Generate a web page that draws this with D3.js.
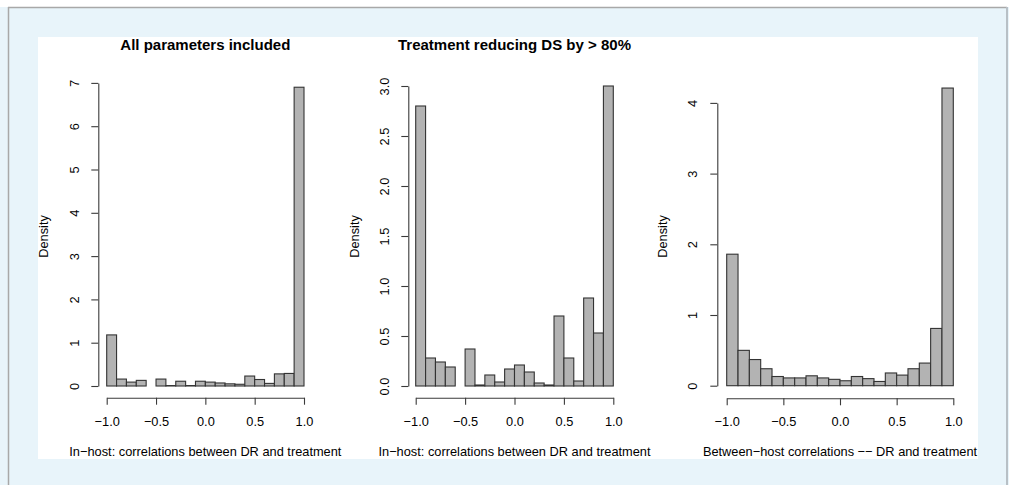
<!DOCTYPE html>
<html>
<head>
<meta charset="utf-8">
<script src="https://cdn.jsdelivr.net/npm/d3@7"></script>
<style>
  html, body { margin: 0; padding: 0; background: #ffffff; }
  svg { display: block; }
  text { font-family: "Liberation Sans", Arial, Helvetica, sans-serif; fill: #000; }
</style>
</head>
<body>
<svg id="chart" width="1009" height="485"></svg>
<script>
// Histogram bins: 20 bins of width 0.1 spanning [-1, 1]
const binEdges = d3.range(-1, 1.0001, 0.1).map(v => +v.toFixed(1));

// Density per bin, left to right
const densityAll = [1.18, 0.16, 0.09, 0.13, 0, 0.16, 0.01, 0.11, 0.01, 0.11,
                    0.09, 0.07, 0.05, 0.04, 0.23, 0.15, 0.06, 0.28, 0.29, 6.9];
const densityReduced = [2.80, 0.28, 0.24, 0.19, 0, 0.37, 0.01, 0.11, 0.04, 0.17,
                        0.21, 0.14, 0.03, 0.01, 0.70, 0.28, 0.05, 0.88, 0.53, 3.0];
const densityBetween = [1.86, 0.50, 0.37, 0.24, 0.13, 0.11, 0.11, 0.14, 0.11, 0.09,
                        0.07, 0.13, 0.10, 0.06, 0.18, 0.15, 0.24, 0.32, 0.81, 4.21];

const xTicks = [-1.0, -0.5, 0.0, 0.5, 1.0];
const yTicksAll = [0, 1, 2, 3, 4, 5, 6, 7];
const yTicksReduced = [0, 0.5, 1.0, 1.5, 2.0, 2.5, 3.0];
const yTicksBetween = [0, 1, 2, 3, 4];

const titles = ["All parameters included", "Treatment reducing DS by > 80%", ""];
const xLabels = ["In\u2212host: correlations between DR and treatment",
                 "In\u2212host: correlations between DR and treatment",
                 "Between\u2212host correlations \u2212\u2212 DR and treatment"];
const yLabel = "Density";

// Panel geometry (pixels)
const panels = [
  { values: densityAll, yTicks: yTicksAll, yFmt: d3.format("d"),
    x0: 106.7, x1: 304.0, yZero: 386.0, perUnit: 43.3, yAxisX: 98.3, xAxisY: 397.7,
    tickLabelX: 75, densityX: 44 },
  { values: densityReduced, yTicks: yTicksReduced, yFmt: d3.format(".1f"),
    x0: 415.7, x1: 613.3, yZero: 386.0, perUnit: 100.0, yAxisX: 408.3, xAxisY: 397.7,
    tickLabelX: 385, densityX: 355 },
  { values: densityBetween, yTicks: yTicksBetween, yFmt: d3.format("d"),
    x0: 726.7, x1: 953.3, yZero: 385.7, perUnit: 70.7, yAxisX: 717.3, xAxisY: 398.3,
    tickLabelX: 693, densityX: 663 }
];

const svg = d3.select("#chart");

// Page frame
svg.append("rect").attr("x", 0).attr("y", 7).attr("width", 1009).attr("height", 478).attr("fill", "#e8f4fa");
svg.append("line").attr("x1", 8).attr("x2", 1007).attr("y1", 7.5).attr("y2", 7.5).attr("stroke", "#a8a8a8").attr("stroke-width", 1.5);
svg.append("line").attr("x1", 8.5).attr("x2", 8.5).attr("y1", 7).attr("y2", 485).attr("stroke", "#a8a8a8").attr("stroke-width", 1.5);
svg.append("line").attr("x1", 1007).attr("x2", 1007).attr("y1", 7).attr("y2", 485).attr("stroke", "#b8c0c6").attr("stroke-width", 2);
svg.append("rect").attr("x", 38).attr("y", 37).attr("width", 940).attr("height", 422).attr("fill", "#ffffff");

const axisColor = "#3a3a3a";

panels.forEach((p, i) => {
  const g = svg.append("g");
  const yMax = d3.max(p.yTicks);
  const x = d3.scaleLinear().domain([-1, 1]).range([p.x0, p.x1]);
  const y = d3.scaleLinear().domain([0, yMax]).range([p.yZero, p.yZero - yMax * p.perUnit]);

  const bins = p.values.map((v, k) => ({ lo: binEdges[k], hi: binEdges[k + 1], v }));

  g.selectAll("rect.bar").data(bins).join("rect")
    .attr("class", "bar")
    .attr("x", d => x(d.lo))
    .attr("y", d => y(d.v))
    .attr("width", d => x(d.hi) - x(d.lo))
    .attr("height", d => y(0) - y(d.v))
    .attr("fill", "#b3b3b3")
    .attr("stroke", "#333333")
    .attr("stroke-width", 1.1);

  // Bottom axis
  const xa = g.append("g").attr("transform", `translate(0,${p.xAxisY})`)
    .call(d3.axisBottom(x).tickValues(xTicks).tickSize(7).tickSizeOuter(0)
      .tickFormat(d => d3.format(".1f")(d).replace("-", "\u2212")));
  xa.select(".domain").attr("stroke", axisColor).attr("stroke-width", 1.1);
  xa.selectAll(".tick line").attr("stroke", axisColor).attr("stroke-width", 1.1);
  xa.selectAll(".tick text")
    .attr("y", 421.5 - p.xAxisY).attr("dy", "0.35em")
    .style("font-size", "12.8px").attr("fill", "#000");

  // Left axis with rotated labels
  const ya = g.append("g").attr("transform", `translate(${p.yAxisX},0)`)
    .call(d3.axisLeft(y).tickValues(p.yTicks).tickSize(7).tickSizeOuter(0).tickFormat(p.yFmt));
  ya.select(".domain").attr("stroke", axisColor).attr("stroke-width", 1.1);
  ya.selectAll(".tick line").attr("stroke", axisColor).attr("stroke-width", 1.1);
  ya.selectAll(".tick text")
    .attr("x", null).attr("dy", null)
    .attr("text-anchor", "middle")
    .attr("transform", `translate(${p.tickLabelX - p.yAxisX},0) rotate(-90)`)
    .attr("dy", "0.35em")
    .style("font-size", "12.8px").attr("fill", "#000");

  // Axis titles
  g.append("text")
    .attr("transform", `translate(${p.densityX},236.5) rotate(-90)`)
    .attr("text-anchor", "middle").attr("dy", "0.35em")
    .style("font-size", "12.8px")
    .text(yLabel);

  g.append("text")
    .attr("x", (p.x0 + p.x1) / 2).attr("y", 452)
    .attr("text-anchor", "middle").attr("dy", "0.35em")
    .style("font-size", "12.8px")
    .text(xLabels[i]);

  if (titles[i]) {
    g.append("text")
      .attr("x", (p.x0 + p.x1) / 2).attr("y", 45)
      .attr("text-anchor", "middle").attr("dy", "0.35em")
      .style("font-size", "15px").style("font-weight", "bold")
      .text(titles[i]);
  }
});
</script>
</body>
</html>
